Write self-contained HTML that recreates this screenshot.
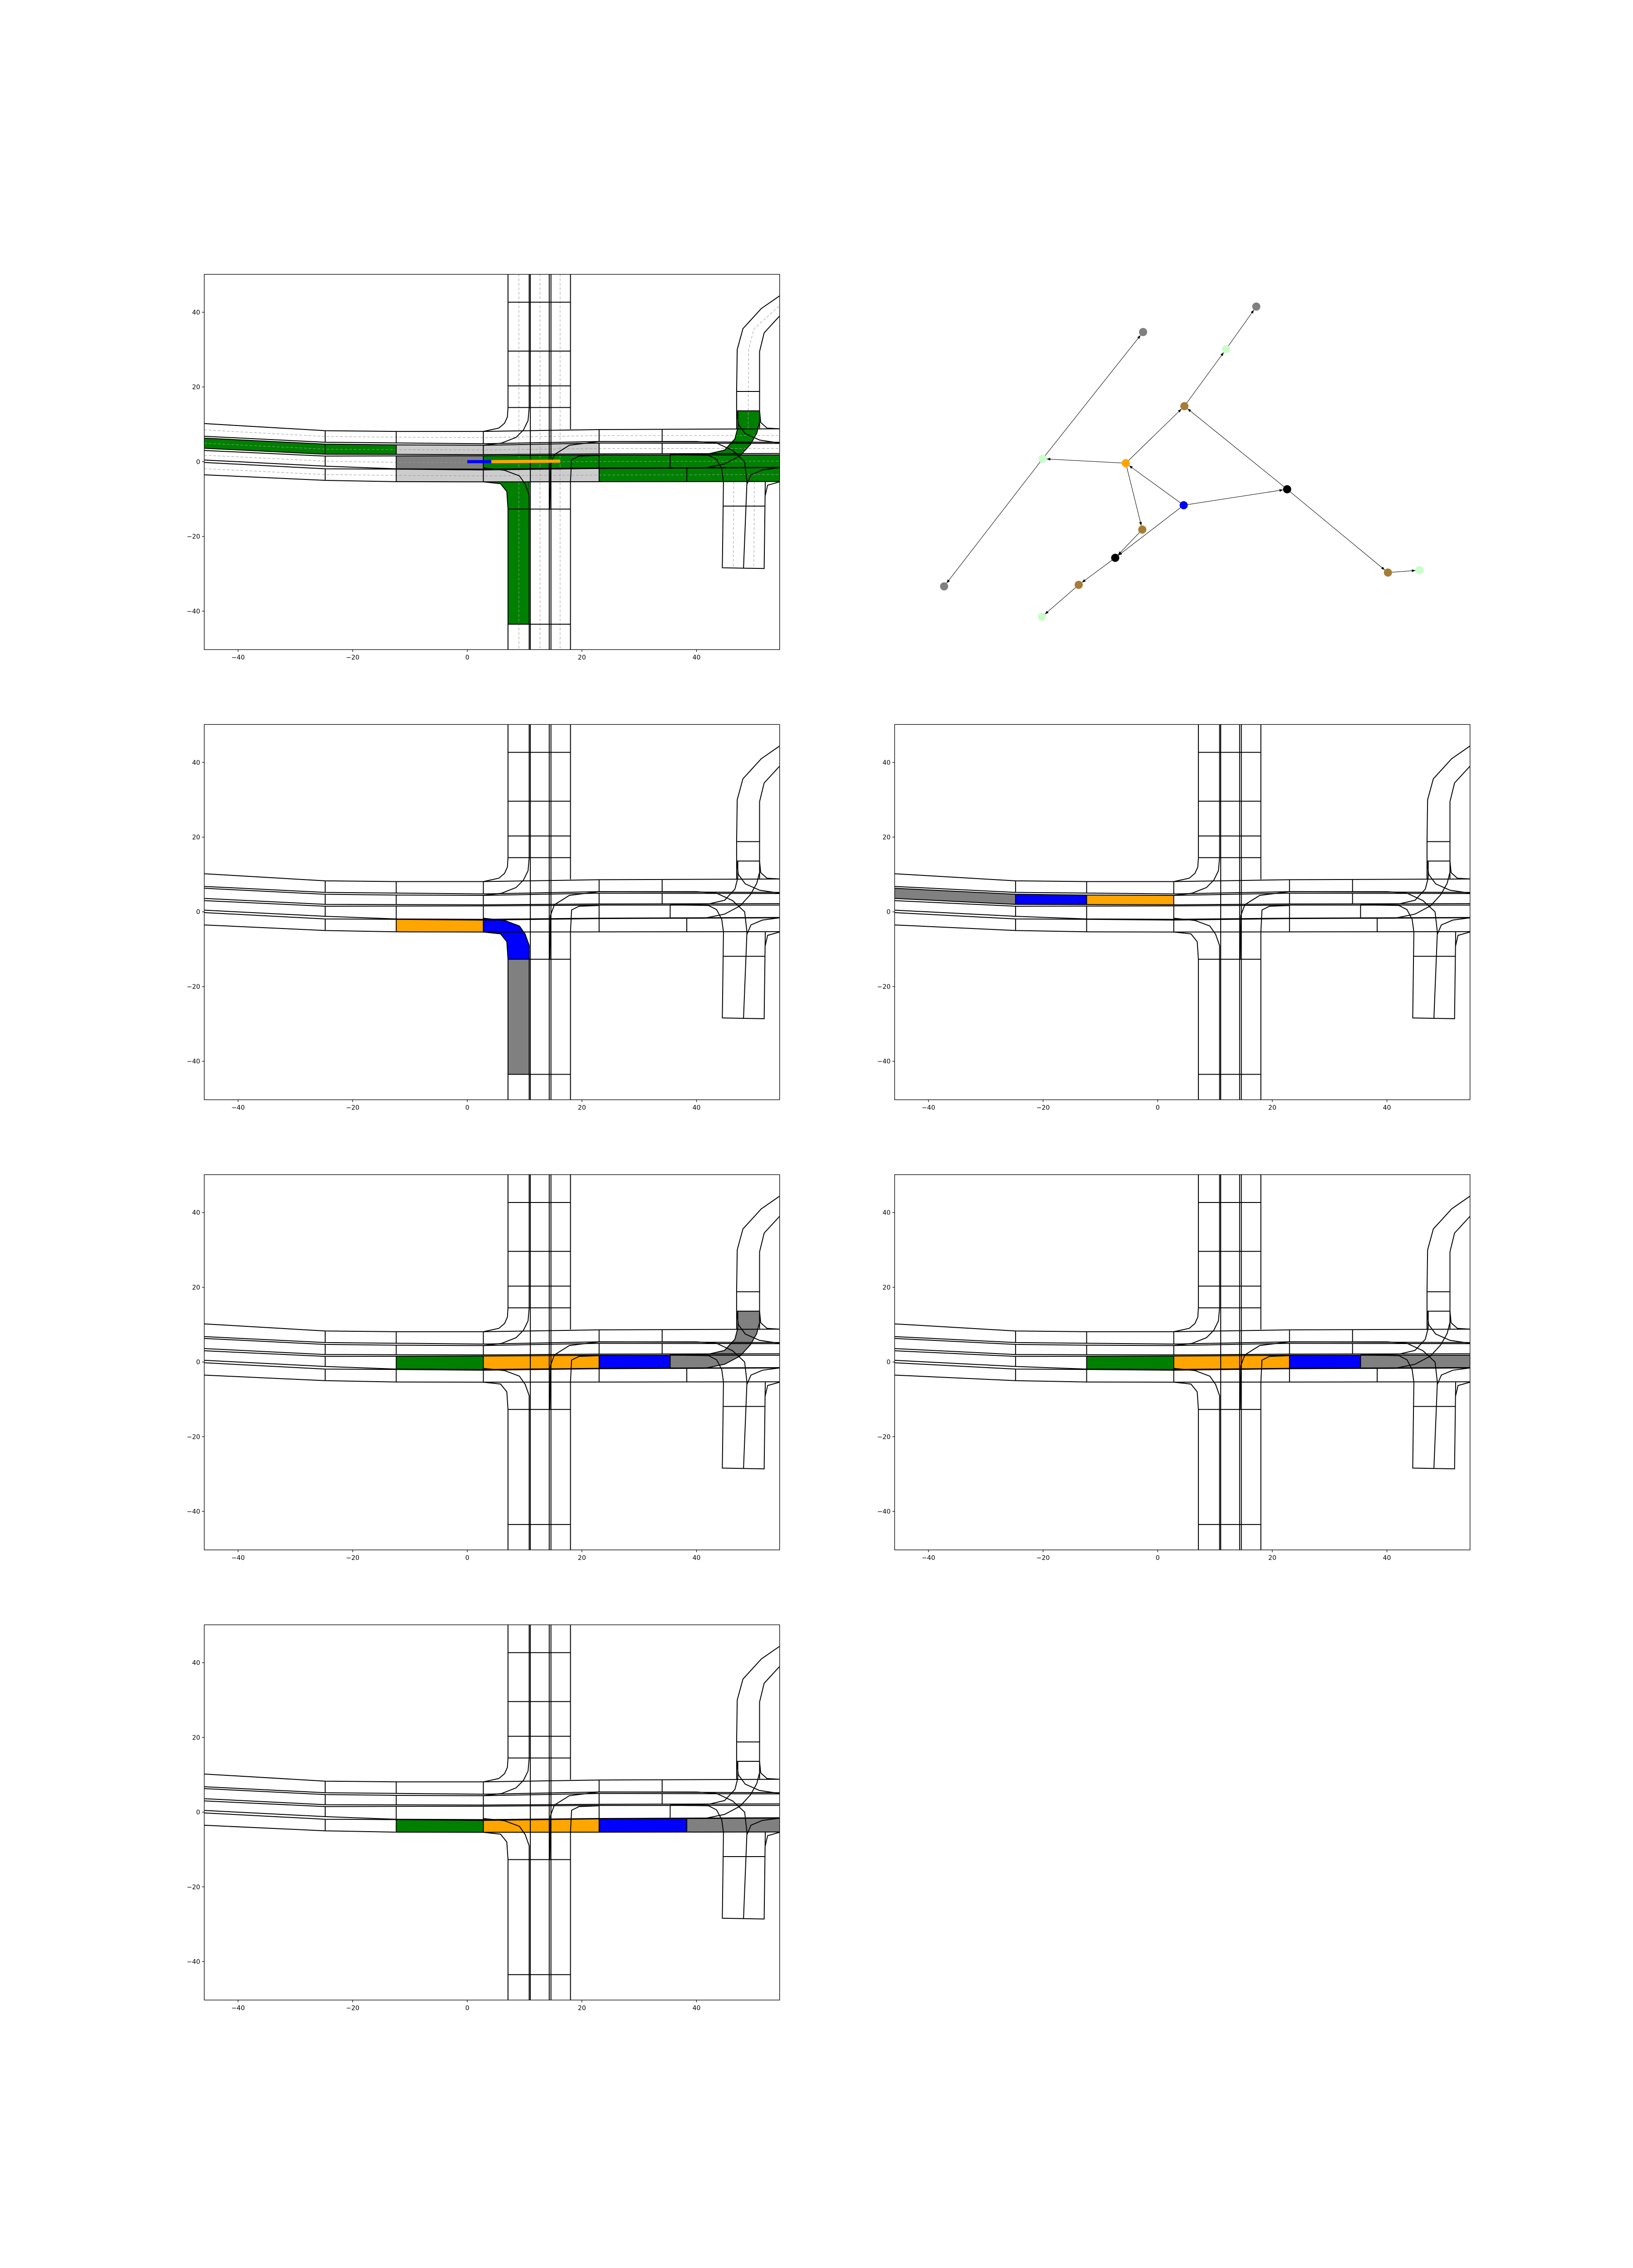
<!DOCTYPE html>
<html><head><meta charset="utf-8">
<style>
html,body{margin:0;padding:0;background:#fff;width:3600px;height:5040px;overflow:hidden;}
svg{display:block;}
text{font-family:"DejaVu Sans","Liberation Sans",sans-serif;font-size:14px;fill:#000;}
</style></head>
<body>
<svg id="fig" width="3600" height="5040" viewBox="0 0 3600 5040" xmlns="http://www.w3.org/2000/svg">
<defs>
<marker id="arr" markerWidth="8" markerHeight="6" refX="8" refY="3" orient="auto" markerUnits="userSpaceOnUse">
<path d="M0,0 L8,3 L0,6 z" fill="#000"/>
</marker>
</defs>
</svg>
<script>
// ---- axis limits / ticks ----
const xTicks = [-40, -20, 0, 20, 40];
const yTicks = [-40, -20, 0, 20, 40];
const xLim = [-45.9, 54.5];
const yLim = [-50.3, 50.15];

// ---- lane boundaries (data coords) ----
const A_top = [[-45.9,10.2],[-24.8,8.3],[-12.4,8.1],[2.8,8.1],[23,8.6],[54.5,8.8]];
const A_bot = [[-45.9,6.8],[-24.8,5.2],[2.8,4.8],[23,5.4],[54.5,5.2]];
const B_top = [[-45.9,6.3],[-24.8,4.7],[-12.4,4.5],[2.8,4.4],[23,5.0],[54.5,4.9]];
const B_bot = [[-45.9,3.6],[-24.8,2.0],[2.8,1.9],[23,2.1],[54.5,2.2]];
const C_top = [[-45.9,3.0],[-24.8,1.5],[2.8,1.6],[23,1.8],[54.5,1.8]];
const C_bot = [[-45.9,0.45],[-24.8,-1.2],[-12.4,-1.9],[2.8,-2.0],[23,-1.7],[54.5,-1.5]];
const D_top = [[-45.9,-0.2],[-24.8,-1.9],[-12.4,-2.0],[2.8,-2.2],[23,-1.8],[54.5,-1.6]];
const D_bot = [[-45.9,-3.5],[-24.8,-5.0],[-12.4,-5.35],[2.8,-5.4],[54.5,-5.3]];
const lanes = {A:[A_top,A_bot],B:[B_top,B_bot],C:[C_top,C_bot],D:[D_top,D_bot]};
const laneCuts = {A:[-24.8,-12.4,2.8,23,34],B:[-24.8,-12.4,2.8,23,34],C:[-24.8,-12.4,2.8,23,35.4],D:[-24.8,-12.4,2.8,23,38.3]};

const extraLines = [
 [[7.1,50.3],[7.1,14.5]],[[7.1,-12.7],[7.1,-50.3]],
 [[10.8,50.3],[10.8,14.5]],[[10.8,-12.7],[10.8,-50.3]],
 [[11.0,50.3],[11.0,-50.3]],[[14.3,50.3],[14.3,-50.3]],[[14.6,50.3],[14.6,-50.3]],
 [[18.0,50.3],[18.0,8.7]],[[18.0,-5.4],[18.0,-50.3]],
 [[7.1,42.7],[18,42.7]],[[7.1,29.6],[18,29.6]],[[7.1,20.3],[18,20.3]],[[7.1,14.5],[18,14.5]],
 [[7.1,-12.7],[18,-12.7]],[[7.1,-43.5],[18,-43.5]],
 [[7.1,14.5],[7.0,12],[6.5,10.3],[5.5,9.0],[2.8,8.1]],
 [[10.8,14.5],[10.6,11],[9.8,8.5],[8.5,6.5],[6,5.0],[2.8,4.4]],
 [[2.8,-5.4],[5.8,-5.9],[6.9,-8.0],[7.1,-12.7]],
 [[2.8,-1.7],[6.5,-2.3],[9.1,-3.8],[10.1,-6],[10.8,-9],[10.8,-12.7]],
 [[14.4,-12.7],[14.5,-1],[15.2,1.9],[17.8,4.4],[23,5.4],[40,5.4],[43.5,5.0],[46.3,3.0],[48.4,0],[48.8,-5.4]],
 [[18,-5.4],[18.2,0.5],[19.5,1.5],[23,1.7]],
 [[47.0,8.8],[47.0,18.8],[47.1,30.0],[48.1,35.6],[51.3,41.0],[54.5,44.4]],
 [[51.0,8.8],[51.0,29.5],[51.8,34.5],[54.5,39.0]],
 [[47,18.8],[51,18.8]],[[47,13.6],[51,13.6]],
 [[35.4,1.9],[42.1,2.1],[44.9,3.1],[46.7,6.1],[47.2,9.1],[47.2,13.6]],
 [[35.4,-1.7],[41.4,-1.7],[44.9,-0.6],[47.6,1.6],[49.4,4.6],[50.5,7.6],[51.0,10.6],[51.0,13.6]],
 [[51.0,13.6],[51.2,10.5],[52.3,9.0],[54.5,8.8]],
 [[47.0,13.6],[47.3,10],[48.5,7.5],[51,5.8],[54.5,5.0]],
 [[44.7,-5.4],[44.5,-28.4],[48.2,-28.5],[51.8,-28.6],[52.0,-5.4]],
 [[48.8,-5.4],[48.2,-28.5]],[[44.6,-11.9],[52,-11.9]],
 [[38,1.8],[42.1,1.7],[43.5,0.6],[44.4,-2],[44.7,-5.4]],
 [[52.0,-9],[52.4,-6.3],[54.5,-5.4]],
 [[48.8,-6],[49.5,-3.5],[51.5,-2.2],[54.5,-1.6]]
];
const dashedLines = [
 [[9.0,50.3],[9.0,-50.3]],[[12.7,50.3],[12.7,-50.3]],[[16.2,50.3],[16.2,-50.3]],
 [[49,8.8],[49.1,30],[50,35.5],[54.5,41.8]],
 [[46.5,-5.4],[46.4,-28.5]],[[50.1,-5.4],[50.0,-28.6]]
];

// ---- highlighted route pieces per panel: [lane, x1, x2, color] ----
const panel1Lanes = [['B',-45.9,-12.4,'#008000'],['B',-12.4,23,'#cccccc'],['C',-12.4,2.8,'#808080'],['D',-12.4,23,'#cccccc'],['C',2.8,54.5,'#008000'],['D',23,54.5,'#008000']];
const panel3Lanes = [['D',-12.4,2.8,'#ffa500']];
const panel4Lanes = [['B',-45.9,-24.8,'#808080'],['B',-24.8,-12.4,'#0000ff'],['B',-12.4,2.8,'#ffa500']];
const panel5Lanes = [['C',-12.4,2.8,'#008000'],['C',2.8,23,'#ffa500'],['C',23,35.4,'#0000ff']];
const panel6Lanes = [['C',-12.4,2.8,'#008000'],['C',2.8,23,'#ffa500'],['C',23,35.4,'#0000ff'],['C',35.4,54.5,'#808080']];
const panel7Lanes = [['D',-12.4,2.8,'#008000'],['D',2.8,23,'#ffa500'],['D',23,38.3,'#0000ff'],['D',38.3,54.5,'#808080']];

const turnSouth = [[2.8,-5.4],[10.8,-5.4],[10.8,-43.5],[7.1,-43.5],[7.1,-12.7],[6.9,-8],[5.8,-5.9]];
const turnBlue = [[2.8,-1.7],[6.5,-2.3],[9.1,-3.8],[10.1,-6],[10.8,-9],[10.8,-12.7],[7.1,-12.7],[6.9,-8],[5.8,-5.9],[2.8,-5.4]];
const southGray = [[7.1,-12.7],[10.8,-12.7],[10.8,-43.5],[7.1,-43.5]];
const ramp = [[35.4,1.9],[42.1,2.1],[44.9,3.1],[46.7,6.1],[47.2,9.1],[47.2,13.6],[51.0,13.6],[51.0,10.6],[50.5,7.6],[49.4,4.6],[47.6,1.6],[44.9,-0.6],[41.4,-1.7],[35.4,-1.7]];

const panel1Polys = [[turnSouth,'#008000'],[ramp,'#008000']];
const panel3Polys = [[turnBlue,'#0000ff'],[southGray,'#808080']];
const panel5Polys = [[ramp,'#808080']];

const routeBlue = [[0,0],[4.2,0]];
const routeOrange = [[4.2,0],[16.2,0.15]];

// ---- graph data ----
const nodeNames = ['A','B','C','D','E','F','G','H','I','J','K','L','M','N','O'];
const nodeX = [2520,2769.5,2703,2611,2298.5,2481.8,2837.5,2609.5,2518.2,2458.5,3059.7,3129.4,2378,2081.3,2296.8];
const nodeY = [732,675.9,769.6,895.4,1011.4,1021.1,1078.6,1113.8,1167.5,1229.8,1262.3,1256.9,1289.4,1292.7,1359.9];
const nodeColor = ['#808080','#808080','#c8ffc8','#a67c37','#c8ffc8','#ffa500','#000000','#0000ff','#a67c37','#000000','#a67c37','#c8ffc8','#a67c37','#808080','#c8ffc8'];
const edgeFrom = ['E','E','F','F','F','H','H','H','G','G','K','D','C','I','J','M'];
const edgeTo   = ['A','N','E','D','I','F','G','J','D','K','L','C','B','J','M','O'];

const NS='http://www.w3.org/2000/svg';
const fig=document.getElementById('fig');
function mk(tag,attrs,parent){const e=document.createElementNS(NS,tag);for(const k in attrs)e.setAttribute(k,attrs[k]);(parent||fig).appendChild(e);return e;}

const colX=[450.3,1972.3], W=1268.4, H=827.3;
function rowY(i){return 604.8+i*992.4;}

function yAt(poly,x){
  for(let i=0;i<poly.length-1;i++){const a=poly[i],b=poly[i+1];
    if(x>=a[0]-1e-9&&x<=b[0]+1e-9){const t=(x-a[0])/(b[0]-a[0]);return a[1]+t*(b[1]-a[1]);}}
  return x<poly[0][0]?poly[0][1]:poly[poly.length-1][1];
}
function lanePoly(L,x1,x2){
  const [top,bot]=lanes[L];
  const pts=[[x1,yAt(top,x1)]];
  top.forEach(p=>{if(p[0]>x1&&p[0]<x2)pts.push(p);});
  pts.push([x2,yAt(top,x2)]);pts.push([x2,yAt(bot,x2)]);
  const bp=[];bot.forEach(p=>{if(p[0]>x1&&p[0]<x2)bp.push(p);});
  bp.reverse().forEach(p=>pts.push(p));
  pts.push([x1,yAt(bot,x1)]);
  return pts;
}

function drawPanel(px,py,name,laneFills,polyFills,dashes,routes){
  const sx=v=>px+(v-xLim[0])/(xLim[1]-xLim[0])*W;
  const sy=v=>py+(yLim[1]-v)/(yLim[1]-yLim[0])*H;
  const P=pts=>pts.map(p=>sx(p[0]).toFixed(1)+','+sy(p[1]).toFixed(1)).join(' ');
  const g=mk('g',{});
  
  
  const cid='clip-'+name;
  const cp=mk('clipPath',{id:cid},g);mk('rect',{x:px,y:py,width:W,height:H},cp);
  const inner=mk('g',{'clip-path':'url(#'+cid+')'},g);
  laneFills.forEach(f=>{
    const e=mk('polygon',{points:P(lanePoly(f[0],f[1],f[2])),fill:f[3],stroke:'#000','stroke-width':1.5},inner);
    
    
  });
  polyFills.forEach(f=>{
    const e=mk('polygon',{points:P(f[0]),fill:f[1],stroke:'#000','stroke-width':1.5},inner);
    
    
  });
  if(dashes){
    const dl=[];
    Object.keys(lanes).forEach(k=>{const [t,b]=lanes[k];const xs=[-45.9,-24.8,-12.4,2.8,23,54.5];dl.push(xs.map(x=>[x,(yAt(t,x)+yAt(b,x))/2]));});
    dashedLines.concat(dl).forEach(l=>{
      const e=mk('polyline',{points:P(l),fill:'none',stroke:'#999','stroke-width':1,'stroke-dasharray':'6,4'},inner);
      
      
    });
  }
  Object.keys(lanes).forEach(k=>{
    lanes[k].forEach(b=>{
      const e=mk('polyline',{points:P(b),fill:'none',stroke:'#000','stroke-width':2},inner);
      
      
    });
    laneCuts[k].forEach(x=>{
      const e=mk('line',{x1:sx(x),y1:sy(yAt(lanes[k][0],x)),x2:sx(x),y2:sy(yAt(lanes[k][1],x)),stroke:'#000','stroke-width':2},inner);
      
      
    });
  });
  extraLines.forEach(l=>{
    const e=mk('polyline',{points:P(l),fill:'none',stroke:'#000','stroke-width':2},inner);
    
    
  });
  if(routes){
    const b=mk('polyline',{points:P(routeBlue),fill:'none',stroke:'#0000ff','stroke-width':7},inner);
    
    
    const o=mk('polyline',{points:P(routeOrange),fill:'none',stroke:'#ffa500','stroke-width':7},inner);
    
    
  }
  const fr=mk('rect',{x:px,y:py,width:W,height:H,fill:'none',stroke:'#000','stroke-width':1.3},g);
  
  
  xTicks.forEach(t=>{
    const x=sx(t);
    mk('line',{x1:x,y1:py+H,x2:x,y2:py+H+5,stroke:'#000','stroke-width':1.2},g);
    const tx=mk('text',{x:x,y:py+H+22,'text-anchor':'middle'},g);
    tx.textContent=(t<0?'\u2212':'')+Math.abs(t);
    
    
  });
  yTicks.forEach(t=>{
    const y=sy(t);
    mk('line',{x1:px,y1:y,x2:px-5,y2:y,stroke:'#000','stroke-width':1.2},g);
    const tx=mk('text',{x:px-9,y:y+5,'text-anchor':'end'},g);
    tx.textContent=(t<0?'\u2212':'')+Math.abs(t);
    
    
  });
}

drawPanel(colX[0],rowY(0),'map-overview',panel1Lanes,panel1Polys,true,true);
drawPanel(colX[0],rowY(1),'map-route-1',panel3Lanes,panel3Polys,false,false);
drawPanel(colX[1],rowY(1),'map-route-2',panel4Lanes,[],false,false);
drawPanel(colX[0],rowY(2),'map-route-3',panel5Lanes,panel5Polys,false,false);
drawPanel(colX[1],rowY(2),'map-route-4',panel6Lanes,[],false,false);
drawPanel(colX[0],rowY(3),'map-route-5',panel7Lanes,[],false,false);

// ---- graph ----
const gg=mk('g',{});


const R=9;
edgeFrom.forEach((f,i)=>{
  const a=nodeNames.indexOf(f), b=nodeNames.indexOf(edgeTo[i]);
  const x1=nodeX[a],y1=nodeY[a],x2=nodeX[b],y2=nodeY[b];
  const d=Math.hypot(x2-x1,y2-y1);
  const ex=x2-(x2-x1)/d*R, ey=y2-(y2-y1)/d*R;
  const e=mk('line',{x1:x1,y1:y1,x2:ex,y2:ey,stroke:'#000','stroke-width':1,'marker-end':'url(#arr)'},gg);
  
  
});
nodeNames.forEach((n,i)=>{
  const e=mk('ellipse',{cx:nodeX[i],cy:nodeY[i],rx:R,ry:R,fill:nodeColor[i]},gg);
  
  
});
</script>
</body></html>
